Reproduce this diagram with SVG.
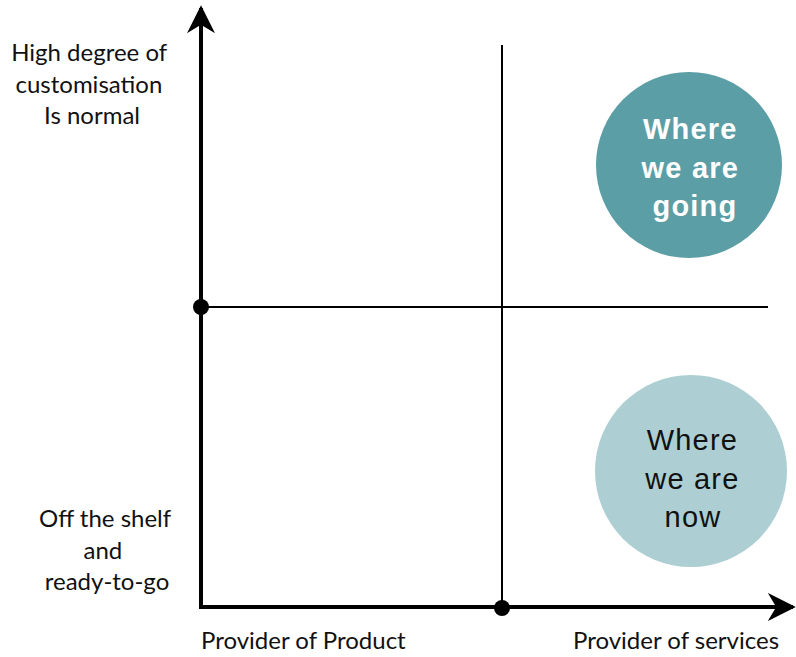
<svg xmlns="http://www.w3.org/2000/svg" width="796" height="657" viewBox="0 0 796 657">
  <defs>
    <marker id="arrow" viewBox="0 0 10 10" refX="9" refY="5" markerWidth="7" markerHeight="7" markerUnits="strokeWidth" orient="auto">
      <path d="M0,0 L10,5 L0,10 L3,5 Z" fill="#000"/>
    </marker>
    <style>
      .axis { stroke: #000; stroke-width: 4; fill: none; }
      .grid { stroke: #000; stroke-width: 2; fill: none; }
      .dot { fill: #000; }
      .label { font-family: Lato, "Open Sans", "Liberation Sans", sans-serif; font-size: 24px; fill: #111; }
      .bubble { font-family: "Liberation Sans", Arial, sans-serif; font-size: 29px; letter-spacing: 1.2px; text-anchor: middle; }
    </style>
  </defs>

  <g id="connectors">
    <line class="grid" x1="201" y1="307" x2="768" y2="307"/>
    <line class="grid" x1="502" y1="45" x2="502" y2="607"/>
    <line class="axis" x1="201" y1="607" x2="201" y2="8" marker-end="url(#arrow)"/>
    <line class="axis" x1="199" y1="607" x2="793" y2="607" marker-end="url(#arrow)"/>
  </g>

  <g id="origin-mid-y">
    <circle class="dot" cx="201" cy="307" r="8"/>
  </g>
  <g id="origin-mid-x">
    <circle class="dot" cx="502" cy="608" r="8"/>
  </g>

  <g id="going">
    <circle cx="689" cy="165" r="93" fill="#5C9EA6"/>
    <text class="bubble" fill="#fff" font-weight="bold">
      <tspan x="695" y="139">Where</tspan>
      <tspan x="695" y="178">we are</tspan>
      <tspan x="695" y="216">going</tspan>
    </text>
  </g>

  <g id="now">
    <circle cx="691" cy="471" r="96" fill="#ADCFD3"/>
    <text class="bubble" fill="#111">
      <tspan x="697" y="450">Where</tspan>
      <tspan x="697" y="489">we are</tspan>
      <tspan x="693" y="527">now</tspan>
    </text>
  </g>

  <g id="y-high">
    <text class="label" text-anchor="middle">
      <tspan x="92" y="61">High degree of</tspan>
      <tspan x="92" y="93">customisation</tspan>
      <tspan x="92" y="124">Is normal</tspan>
    </text>
  </g>
  <g id="y-low">
    <text class="label" text-anchor="middle">
      <tspan x="108" y="527">Off the shelf</tspan>
      <tspan x="106" y="559">and</tspan>
      <tspan x="107" y="590">ready-to-go</tspan>
    </text>
  </g>
  <g id="x-low">
    <text class="label" x="201" y="649">Provider of Product</text>
  </g>
  <g id="x-high">
    <text class="label" x="573" y="649">Provider of services</text>
  </g>
</svg>
